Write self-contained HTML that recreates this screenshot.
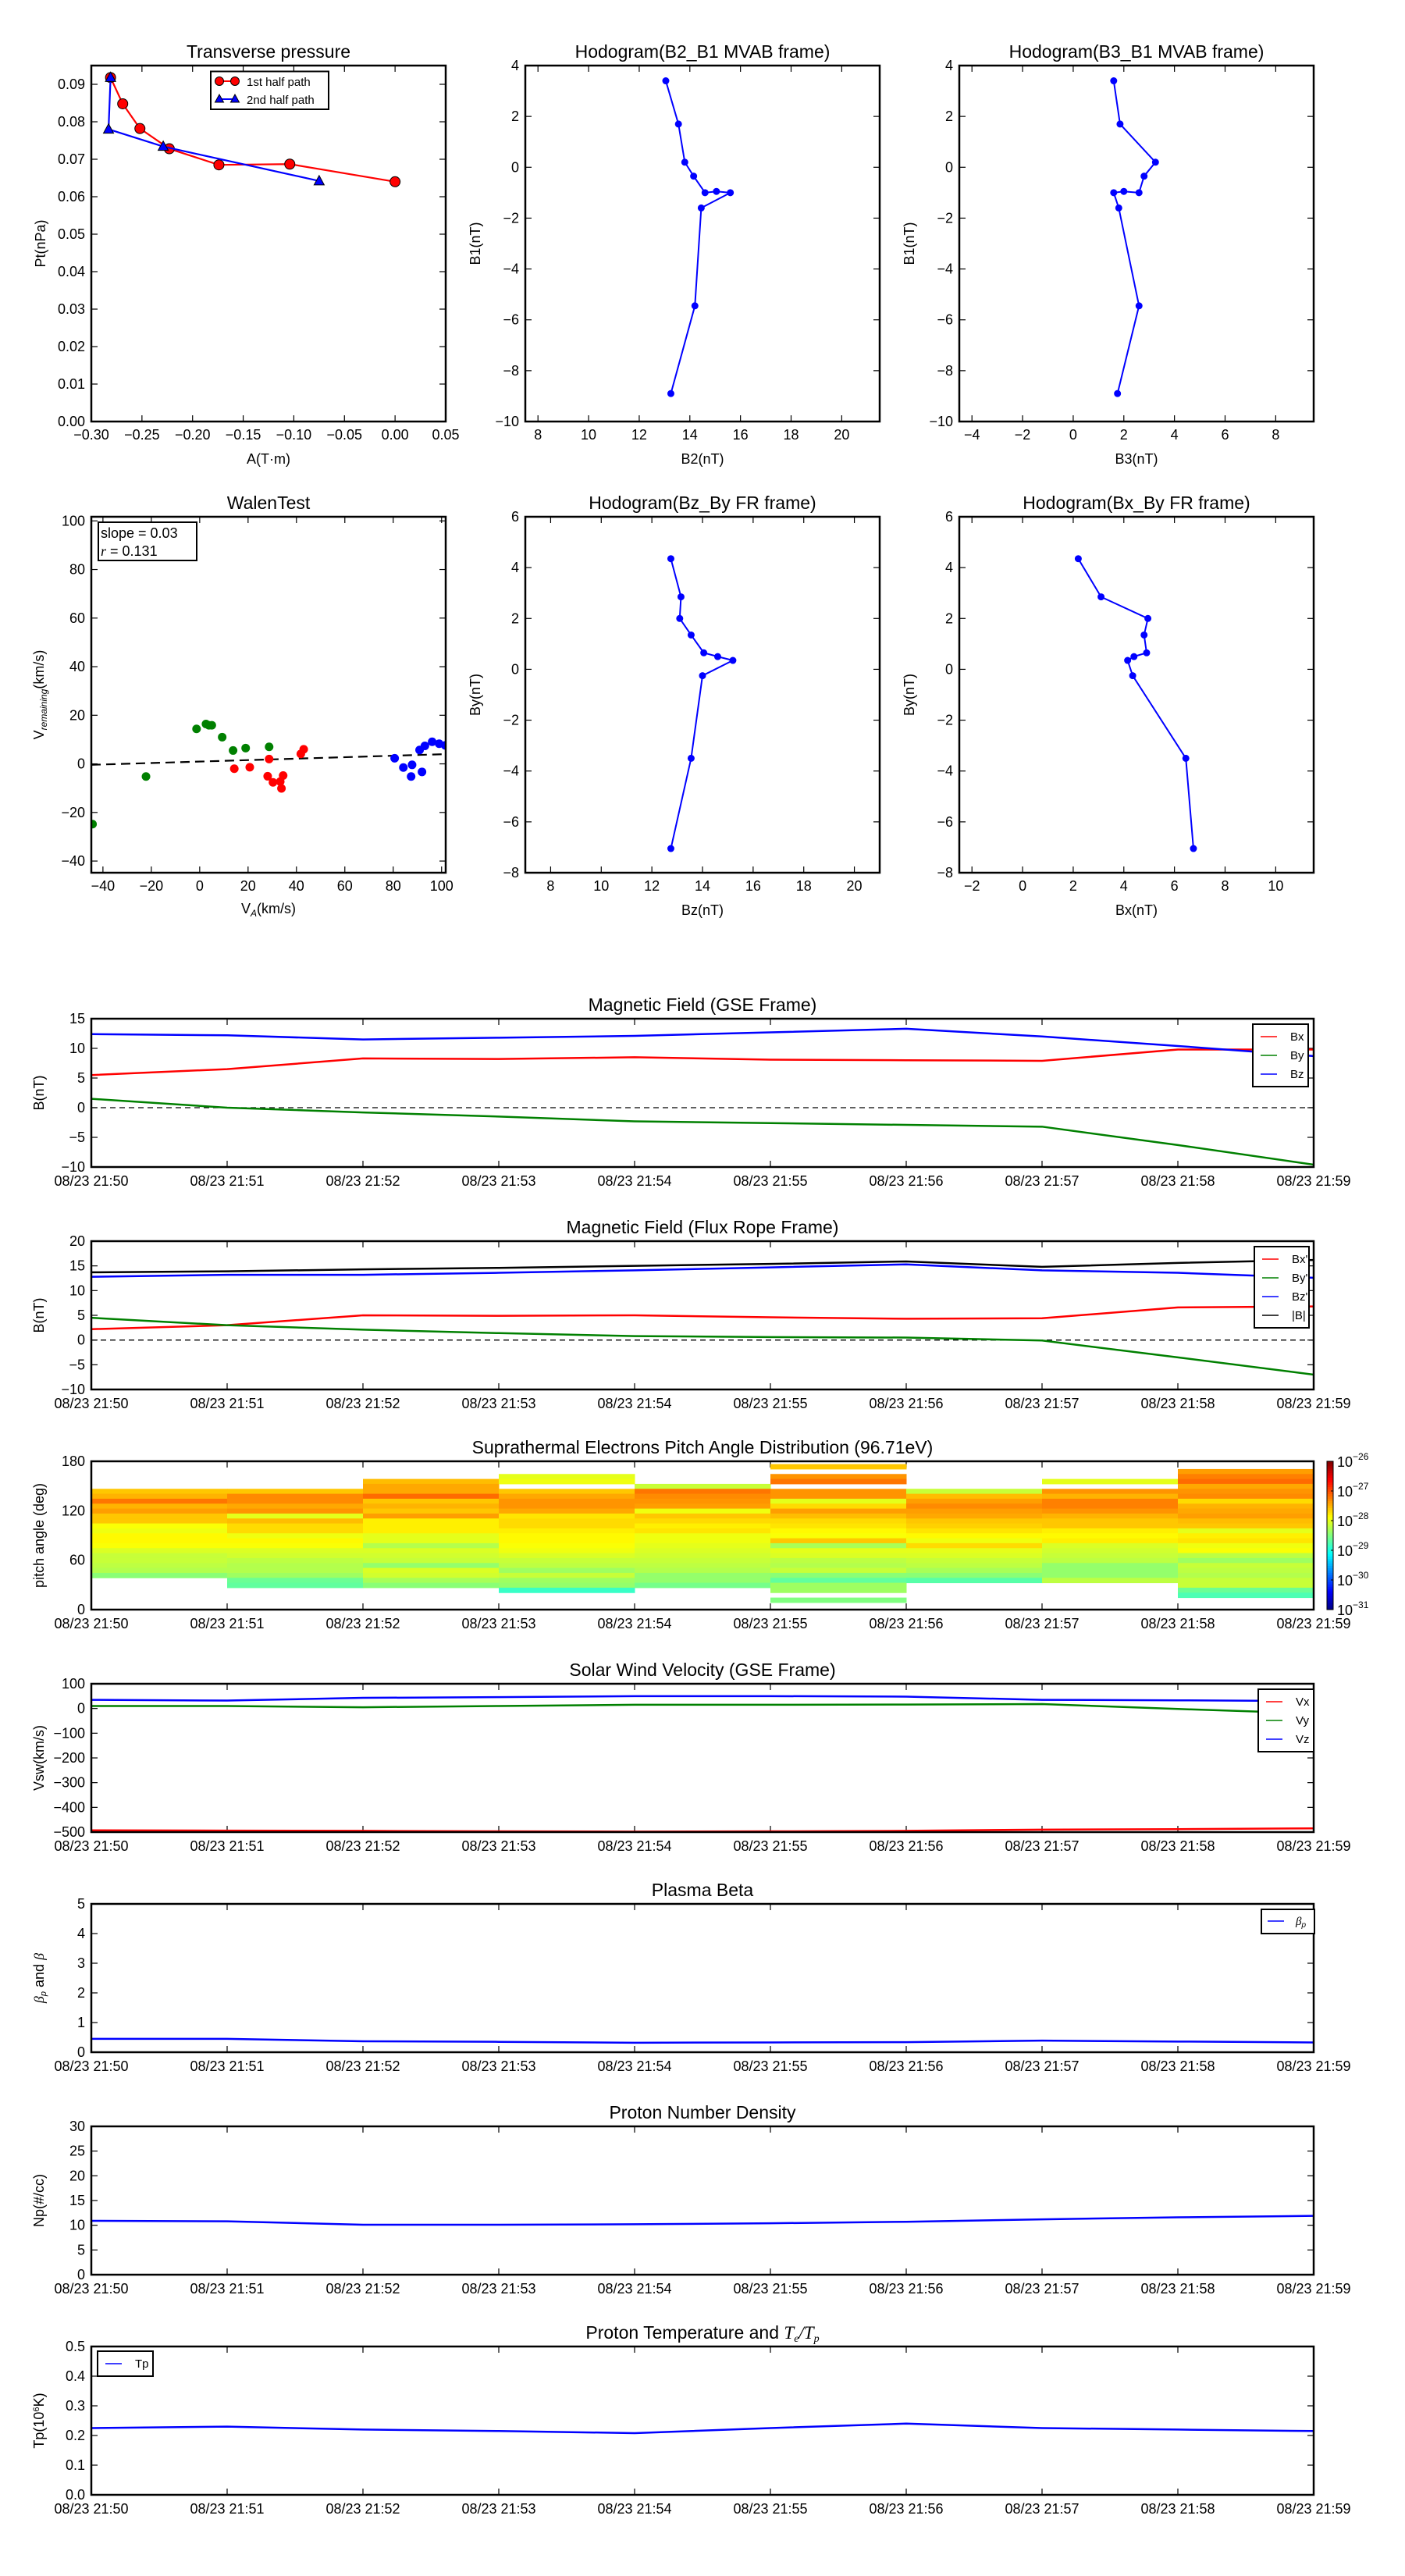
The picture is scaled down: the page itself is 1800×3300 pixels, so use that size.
<!DOCTYPE html>
<html><head><meta charset="utf-8"><title>Flux rope analysis</title>
<style>
html,body{margin:0;padding:0;background:#fff;}
svg{display:block;font-family:"Liberation Sans",sans-serif;}
</style></head>
<body>
<svg id="fig" xmlns="http://www.w3.org/2000/svg" width="1800" height="3300" viewBox="0 0 1800 3300">
<rect x="0" y="0" width="1800" height="3300" fill="#fff"/>
</svg>
<script>
// ---------- data ----------
const tpA1 = [-0.281,-0.269,-0.252,-0.223,-0.174,-0.104,0.000];
const tpP1 = [0.0918,0.0848,0.0782,0.0728,0.0685,0.0687,0.0640];
const tpA2 = [-0.281,-0.283,-0.229,-0.075];
const tpP2 = [0.0918,0.0780,0.0734,0.0642];

const h1B2 = [13.05,13.55,13.8,14.15,14.6,15.05,15.6,14.45,14.2,13.25];
const h1B1 = [3.4,1.7,0.2,-0.35,-1.0,-0.95,-1.0,-1.6,-5.45,-8.9];
const h2B3 = [1.6,1.85,3.25,2.8,2.6,2.0,1.6,1.8,2.6,1.75];
const h3Bz = [12.75,13.15,13.1,13.55,14.05,14.6,15.2,14.0,13.55,12.75];
const h3By = [4.35,2.85,2.0,1.35,0.65,0.5,0.35,-0.25,-3.5,-7.05];
const h4Bx = [2.2,3.1,4.95,4.8,4.9,4.4,4.15,4.35,6.45,6.75];

const wGreenX = [-44.3,-22.2,-1.3,2.6,3.8,5.0,9.3,13.8,19.0,28.7];
const wGreenY = [-24.8,-5.2,14.4,16.4,15.9,15.9,11.0,5.5,6.5,7.0];
const wRedX = [14.3,20.7,28.7,28.1,30.3,33.3,34.5,33.8,41.8,43.0];
const wRedY = [-2.0,-1.4,2.0,-5.1,-7.6,-7.3,-4.8,-10.1,4.1,6.0];
const wBlueX = [80.6,84.2,87.8,87.4,91.9,90.9,93.1,96.1,99.0,101.5];
const wBlueY = [2.3,-1.5,-0.4,-5.2,-3.3,5.7,7.4,9.1,8.3,7.6];
const fitSlope = 0.03;
const fitIntercept = 0.95;

const timeLabels = ["08/23 21:50","08/23 21:51","08/23 21:52","08/23 21:53","08/23 21:54","08/23 21:55","08/23 21:56","08/23 21:57","08/23 21:58","08/23 21:59"];
const gseBx = [5.5,6.5,8.3,8.2,8.5,8.1,8.0,7.9,9.8,9.8];
const gseBy = [1.5,0.0,-0.8,-1.5,-2.3,-2.6,-2.9,-3.2,-6.3,-9.6];
const gseBz = [12.4,12.2,11.5,11.8,12.1,12.7,13.3,12.0,10.4,8.7];
const frBx = [2.2,3.0,5.0,4.9,5.0,4.6,4.3,4.4,6.6,6.8];
const frBy = [4.5,3.0,2.1,1.4,0.8,0.6,0.5,-0.1,-3.5,-7.0];
const frBz = [12.8,13.2,13.2,13.6,14.1,14.7,15.3,14.1,13.6,12.6];
const frBt = [13.7,13.9,14.3,14.6,15.0,15.4,15.9,14.8,15.6,16.2];
const vswX = [-493,-494,-495,-497,-498,-497,-495,-490,-488,-485];
const vswY = [10,10,5,10,15,15,16,18,-2,-20];
const vswZ = [35,32,43,46,50,50,48,35,33,30];
const betaP = [0.45,0.45,0.37,0.35,0.32,0.33,0.34,0.39,0.36,0.33];
const densNp = [10.9,10.8,10.1,10.1,10.2,10.4,10.7,11.2,11.6,11.9];
const tempTp = [0.225,0.23,0.22,0.215,0.208,0.225,0.24,0.225,0.22,0.215];

// pitch-angle bins (lower edges, deg) bottom-to-top
const pitchEdges = [2.6,8.6,14.6,20.6,26.6,32.6,38.6,44.6,50.6,56.6,62.6,68.6,74.6,80.6,86.6,92.6,98.6,104.6,110.6,116.6,122.6,128.6,134.6,140.6,146.6,152.6,158.6,164.6,170.6,176.6];
// log10 flux per minute column, listed top row (176.6deg) to bottom (2.6deg); null = no data
const N = null;
const pad0 = [N,N,N,N,N,N,-27.6,-27.5,-27.2,-27.5,-27.4,-27.6,-27.6,-27.9,-27.95,-27.85,-27.85,-27.9,-28.05,-28.15,-28.15,-28.2,-28.25,-28.45,N,N,N,N,N,N];
const pad1 = [N,N,N,N,N,N,-27.6,-27.3,-27.3,-27.45,-27.35,-28.0,-27.55,-27.7,-27.7,-27.95,-27.85,-27.9,-28.05,-28.1,-28.2,-28.25,-28.25,-28.35,-28.6,-28.65,N,N,N,N];
const pad2 = [N,N,N,N,-27.55,-27.45,-27.45,-27.15,-27.6,-27.5,-27.6,-27.4,-27.8,-27.8,-27.8,-28.0,-28.0,-28.25,-28.05,-28.1,-28.15,-28.4,-28.05,-28.1,-28.3,-28.45,N,N,N,N];
const pad3 = [N,N,N,-28.0,-27.95,N,-27.6,-27.45,-27.35,-27.35,-27.45,-27.75,-27.7,-27.7,-27.8,-27.85,-27.85,-27.9,-27.95,-28.05,-28.15,-28.2,-28.35,-28.15,-28.35,-28.4,-28.85,N,N,N];
const pad4 = [N,N,N,N,N,-28.15,-27.2,-27.3,-27.35,-27.4,-27.95,-27.6,-27.7,-27.8,-27.75,-27.95,-27.95,-28.0,-28.05,-28.1,-28.15,-28.2,-28.25,-28.4,-28.4,-28.55,N,N,N,N];
const pad5 = [N,-27.6,N,-27.35,-27.2,N,-27.35,-27.35,-28.0,-27.7,-27.4,-27.55,-27.7,-27.75,-27.85,-27.9,-27.6,-28.3,-28.0,-28.05,-28.2,-28.25,-28.15,-28.45,-28.65,-28.35,-28.35,N,-28.5,N];
const pad6 = [N,N,N,N,N,N,-28.15,-27.55,-27.4,-27.3,-27.4,-27.45,-27.6,-27.65,-27.75,-27.85,-27.95,-27.7,-28.0,-28.05,-28.15,-28.2,-28.3,-28.45,-28.7,N,N,N,N,N];
const pad7 = [N,N,N,N,-28.0,N,-27.35,-27.5,-27.25,-27.25,-27.35,-27.5,-27.6,-27.6,-27.8,-27.85,-27.8,-28.05,-28.1,-28.15,-28.2,-28.4,-28.4,-28.4,-28.2,N,N,N,N,N];
const pad8 = [N,N,-27.4,-27.25,-27.15,-27.45,-27.35,-27.3,-27.7,-27.5,-27.45,-27.4,-27.55,-27.6,-28.0,-27.8,-27.75,-27.95,-27.9,-28.2,-28.35,-28.15,-28.2,-28.25,-28.15,-28.15,-28.6,-28.75,N,N];
const padCols = [pad0,pad1,pad2,pad3,pad4,pad5,pad6,pad7,pad8];

// ---------- helpers ----------
const NS = "http://www.w3.org/2000/svg";
const fig = document.getElementById('fig');
function mk(tag, attrs, parent, name, inter) {
  const el = document.createElementNS(NS, tag);
  for (const k in attrs) el.setAttribute(k, attrs[k]);
  
  
  (parent || fig).appendChild(el);
  return el;
}
function txt(x, y, s, size, anchor, parent, name, extra) {
  const a = Object.assign({x: x, y: y, 'font-size': size, 'text-anchor': anchor || 'middle', fill: '#000'}, extra || {});
  const t = mk('text', a, parent, name, false);
  t.textContent = s;
  return t;
}
function scale(d0, d1, p0, p1) { return v => p0 + (v - d0) / (d1 - d0) * (p1 - p0); }
function fmtNum(v, dec) {
  const s = Math.abs(v).toFixed(dec);
  return (v < -1e-9 ? '\u2212' : '') + s;
}
function axesFrame(g, L, R, T, B, lw) {
  mk('rect', {x: L, y: T, width: R - L, height: B - T, fill: 'none', stroke: '#000', 'stroke-width': lw || 2.5}, g, 'axes-frame', false);
}
function xTicks(g, sx, vals, labels, T, B, ly, fs) {
  vals.forEach((v, i) => {
    const x = sx(v);
    mk('line', {x1: x, y1: B, x2: x, y2: B - 8, stroke: '#000', 'stroke-width': 1.2}, g, 'x-tick', false);
    mk('line', {x1: x, y1: T, x2: x, y2: T + 8, stroke: '#000', 'stroke-width': 1.2}, g, 'x-tick-top', false);
    txt(x, ly, labels[i], fs, 'middle', g, 'x-tick-label');
  });
}
function yTicks(g, sy, vals, labels, L, R, fs) {
  vals.forEach((v, i) => {
    const y = sy(v);
    mk('line', {x1: L, y1: y, x2: L + 8, y2: y, stroke: '#000', 'stroke-width': 1.2}, g, 'y-tick', false);
    mk('line', {x1: R, y1: y, x2: R - 8, y2: y, stroke: '#000', 'stroke-width': 1.2}, g, 'y-tick-right', false);
    txt(L - 8, y + 6, labels[i], fs, 'end', g, 'y-tick-label');
  });
}
function ylabel(g, x, y, s, fs, name) {
  const t = txt(x, y, s, fs, 'middle', g, name, {transform: 'rotate(-90 ' + x + ' ' + y + ')'});
  return t;
}
function polyline(g, xs, ys, sx, sy, color, lw, name) {
  const pts = xs.map((x, i) => sx(x).toFixed(2) + ',' + sy(ys[i]).toFixed(2)).join(' ');
  return mk('polyline', {points: pts, fill: 'none', stroke: color, 'stroke-width': lw, 'stroke-linejoin': 'round'}, g, name, false);
}
function range(a, b, s) { const r = []; for (let v = a; v <= b + 1e-9; v += s) r.push(Math.round(v * 1e6) / 1e6); return r; }
function clip(g, id, L, R, T, B) {
  const cp = mk('clipPath', {id: id}, g, 'clip', false);
  mk('rect', {x: L, y: T, width: R - L, height: B - T}, cp, 'clip-rect', false);
}

// ---------- Transverse pressure ----------
(function(){
  const g = mk('g', {}, fig, 'transverse-pressure-chart', false);
  const L = 117, R = 571, T = 84, B = 540;
  const sx = scale(-0.30, 0.05, L, R), sy = scale(0, 0.095, B, T);
  txt((L + R) / 2, 74, 'Transverse pressure', 23, 'middle', g, 'chart-title');
  const xt = range(-0.30, 0.05, 0.05);
  xTicks(g, sx, xt, xt.map(v => fmtNum(v, 2)), T, B, 563, 18);
  const yt = range(0, 0.09, 0.01);
  yTicks(g, sy, yt, yt.map(v => fmtNum(v, 2)), L, R, 18);
  txt((L + R) / 2, 594, 'A(T\u00b7m)', 18, 'middle', g, 'x-axis-title');
  ylabel(g, 58, (T + B) / 2, 'Pt(nPa)', 18, 'y-axis-title');
  polyline(g, tpA1, tpP1, sx, sy, '#ff0000', 2.2, 'first-half-line');
  tpA1.forEach((a, i) => {
    mk('circle', {cx: sx(a), cy: sy(tpP1[i]), r: 6.5, fill: '#ff0000', stroke: '#000', 'stroke-width': 1}, g, 'first-half-point', false);
  });
  polyline(g, tpA2, tpP2, sx, sy, '#0000ff', 2.2, 'second-half-line');
  tpA2.forEach((a, i) => {
    const x = sx(a), y = sy(tpP2[i]);
    mk('polygon', {points: `${x},${y-7} ${x-6.5},${y+5} ${x+6.5},${y+5}`, fill: '#0000ff', stroke: '#000', 'stroke-width': 1}, g, 'second-half-point', false);
  });
  axesFrame(g, L, R, T, B);
  const lg = mk('g', {}, g, 'legend', false);
  mk('rect', {x: 270, y: 91.5, width: 151, height: 48.5, fill: '#fff', stroke: '#000', 'stroke-width': 2}, lg, 'legend-box', false);
  mk('line', {x1: 281, y1: 104, x2: 301, y2: 104, stroke: '#ff0000', 'stroke-width': 2}, lg, 'legend-line-first', false);
  mk('circle', {cx: 281, cy: 104, r: 5.5, fill: '#ff0000', stroke: '#000'}, lg, 'legend-marker', false);
  mk('circle', {cx: 301, cy: 104, r: 5.5, fill: '#ff0000', stroke: '#000'}, lg, 'legend-marker', false);
  txt(316, 110, '1st half path', 15, 'start', lg, 'legend-label-first');
  mk('line', {x1: 281, y1: 127, x2: 301, y2: 127, stroke: '#0000ff', 'stroke-width': 2}, lg, 'legend-line-second', false);
  mk('polygon', {points: '281,121 275.5,131 286.5,131', fill: '#0000ff', stroke: '#000'}, lg, 'legend-marker', false);
  mk('polygon', {points: '301,121 295.5,131 306.5,131', fill: '#0000ff', stroke: '#000'}, lg, 'legend-marker', false);
  txt(316, 133, '2nd half path', 15, 'start', lg, 'legend-label-second');
})();

// ---------- hodograms ----------
function hodogram(name, title, L, R, T, B, xr, yr, xt, yt, xs, ys, xlab, ylab, ylx) {
  const g = mk('g', {}, fig, name, false);
  const sx = scale(xr[0], xr[1], L, R), sy = scale(yr[0], yr[1], B, T);
  txt((L + R) / 2, T - 10, title, 23, 'middle', g, 'chart-title');
  xTicks(g, sx, xt, xt.map(v => fmtNum(v, 0)), T, B, B + 23, 18);
  yTicks(g, sy, yt, yt.map(v => fmtNum(v, 0)), L, R, 18);
  txt((L + R) / 2, B + 54, xlab, 18, 'middle', g, 'x-axis-title');
  ylabel(g, ylx, (T + B) / 2, ylab, 18, 'y-axis-title');
  polyline(g, xs, ys, sx, sy, '#0000ff', 2, 'hodogram-line');
  xs.forEach((x, i) => {
    mk('circle', {cx: sx(x), cy: sy(ys[i]), r: 4, fill: '#0000ff', stroke: '#0000ff'}, g, 'hodogram-point', false);
  });
  axesFrame(g, L, R, T, B);
}
hodogram('hodogram-b2-b1', 'Hodogram(B2_B1 MVAB frame)', 673, 1127, 84, 540, [7.5, 21.5], [-10, 4], range(8, 20, 2), range(-10, 4, 2), h1B2, h1B1, 'B2(nT)', 'B1(nT)', 615);
hodogram('hodogram-b3-b1', 'Hodogram(B3_B1 MVAB frame)', 1229, 1683, 84, 540, [-4.5, 9.5], [-10, 4], range(-4, 8, 2), range(-10, 4, 2), h2B3, h1B1, 'B3(nT)', 'B1(nT)', 1171);
hodogram('hodogram-bz-by', 'Hodogram(Bz_By FR frame)', 673, 1127, 662, 1118, [7, 21], [-8, 6], range(8, 20, 2), range(-8, 6, 2), h3Bz, h3By, 'Bz(nT)', 'By(nT)', 615);
hodogram('hodogram-bx-by', 'Hodogram(Bx_By FR frame)', 1229, 1683, 662, 1118, [-2.5, 11.5], [-8, 6], range(-2, 10, 2), range(-8, 6, 2), h4Bx, h3By, 'Bx(nT)', 'By(nT)', 1171);

// ---------- Walen test ----------
(function(){
  const g = mk('g', {}, fig, 'walen-test-chart', false);
  const L = 117, R = 571, T = 662, B = 1118;
  const sx = scale(-44.8, 101.7, L, R), sy = scale(-44.8, 101.7, B, T);
  txt((L + R) / 2, 652, 'WalenTest', 23, 'middle', g, 'chart-title');
  const xt = range(-40, 100, 20);
  xTicks(g, sx, xt, xt.map(v => fmtNum(v, 0)), T, B, 1141, 18);
  yTicks(g, sy, xt, xt.map(v => fmtNum(v, 0)), L, R, 18);
  const xl = txt((L + R) / 2, 1170, '', 18, 'middle', g, 'x-axis-title');
  xl.innerHTML = 'V<tspan font-size="12" font-style="italic" dy="4">A</tspan><tspan dy="-4">(km/s)</tspan>';
  const yl = ylabel(g, 56, (T + B) / 2, '', 18, 'y-axis-title');
  yl.innerHTML = 'V<tspan font-size="12" font-style="italic" dy="4">remaining</tspan><tspan dy="-4">(km/s)</tspan>';
  clip(g, 'walenClip', L, R, T, B);
  const pg = mk('g', {'clip-path': 'url(#walenClip)'}, g, 'walen-plot-area', false);
  const x0 = -44.8, x1 = 101.7;
  mk('line', {x1: sx(x0), y1: sy(fitSlope * x0 + fitIntercept), x2: sx(x1), y2: sy(fitSlope * x1 + fitIntercept), stroke: '#000', 'stroke-width': 2.2, 'stroke-dasharray': '12,7'}, pg, 'fit-line', false);
  [[wGreenX, wGreenY, '#008000', 'walen-point-green'], [wRedX, wRedY, '#ff0000', 'walen-point-red'], [wBlueX, wBlueY, '#0000ff', 'walen-point-blue']].forEach(s => {
    s[0].forEach((x, i) => {
      mk('circle', {cx: sx(x), cy: sy(s[1][i]), r: 5.5, fill: s[2]}, pg, s[3], false);
    });
  });
  axesFrame(g, L, R, T, B);
  mk('rect', {x: 126, y: 669, width: 126, height: 49, fill: '#fff', stroke: '#000', 'stroke-width': 2}, g, 'fit-stats-box', false);
  txt(129, 689, 'slope = 0.03', 18, 'start', g, 'slope-text');
  const rt = txt(129, 712, '', 18, 'start', g, 'r-text');
  rt.innerHTML = '<tspan font-family="Liberation Serif" font-style="italic">r</tspan> = 0.131';
})();

// ---------- time series ----------
const tL = 117, tR = 1683;
const tIdx = timeLabels.map((s, i) => i);
const sxT = scale(0, 9, tL, tR);
function timePanel(name, title, T, yr, yt, ytl, ylab) {
  const B = T + 190;
  const g = mk('g', {}, fig, name, false);
  const sy = scale(yr[0], yr[1], B, T);
  const tt = txt((tL + tR) / 2, T - 10, title, 23, 'middle', g, 'chart-title');
  xTicks(g, sxT, tIdx, timeLabels, T, B, B + 24, 18);
  yTicks(g, sy, yt, ytl, tL, tR, 18);
  const yl = ylabel(g, 56, (T + B) / 2, ylab, 18, 'y-axis-title');
  return {g: g, sy: sy, B: B, T: T, title: tt, ylab: yl};
}
function tsLine(p, vals, color, name) {
  const pts = vals.map((v, i) => sxT(i).toFixed(2) + ',' + p.sy(v).toFixed(2)).join(' ');
  return mk('polyline', {points: pts, fill: 'none', stroke: color, 'stroke-width': 2.5, 'stroke-linejoin': 'round'}, p.g, name, false);
}
function legend(g, x, y, w, items, fs) {
  const lg = mk('g', {}, g, 'legend', false);
  const h = items.length * 24 + 8;
  mk('rect', {x: x, y: y, width: w, height: h, fill: '#fff', stroke: '#000', 'stroke-width': 2}, lg, 'legend-box', false);
  items.forEach((it, i) => {
    const cy = y + 16 + i * 24;
    mk('line', {x1: x + 10, y1: cy, x2: x + 31, y2: cy, stroke: it[1], 'stroke-width': 1.6}, lg, 'legend-swatch', false);
    const t = txt(x + 48, cy + 5, it[0], fs || 15, 'start', lg, 'legend-label');
    if (it[2]) t.innerHTML = it[2];
  });
}
function zeroLine(p) {
  mk('line', {x1: tL, y1: p.sy(0), x2: tR, y2: p.sy(0), stroke: '#000', 'stroke-width': 1.3, 'stroke-dasharray': '7,5'}, p.g, 'zero-line', false);
}
function tickLab(vals, dec) { return vals.map(v => fmtNum(v, dec)); }

// Magnetic field GSE
(function(){
  const yt = range(-10, 15, 5);
  const p = timePanel('magnetic-field-gse-chart', 'Magnetic Field (GSE Frame)', 1305, [-10, 15], yt, tickLab(yt, 0), 'B(nT)');
  zeroLine(p);
  tsLine(p, gseBx, '#ff0000', 'line-bx');
  tsLine(p, gseBy, '#008000', 'line-by');
  tsLine(p, gseBz, '#0000ff', 'line-bz');
  axesFrame(p.g, tL, tR, p.T, p.B);
  legend(p.g, 1605, 1312, 71, [['Bx', '#ff0000'], ['By', '#008000'], ['Bz', '#0000ff']]);
})();
// Magnetic field FR
(function(){
  const yt = range(-10, 20, 5);
  const p = timePanel('magnetic-field-fr-chart', 'Magnetic Field (Flux Rope Frame)', 1590, [-10, 20], yt, tickLab(yt, 0), 'B(nT)');
  zeroLine(p);
  tsLine(p, frBx, '#ff0000', 'line-bx-prime');
  tsLine(p, frBy, '#008000', 'line-by-prime');
  tsLine(p, frBz, '#0000ff', 'line-bz-prime');
  tsLine(p, frBt, '#000000', 'line-btotal');
  axesFrame(p.g, tL, tR, p.T, p.B);
  legend(p.g, 1607, 1597, 70, [["Bx'", '#ff0000'], ["By'", '#008000'], ["Bz'", '#0000ff'], ['|B|', '#000000']]);
})();
// Pitch angle distribution
function jet(f) {
  f = Math.max(0, Math.min(1, f));
  const c = v => Math.round(255 * Math.max(0, Math.min(1, v)));
  const r = c(1.5 - Math.abs(4 * f - 3)), g = c(1.5 - Math.abs(4 * f - 2)), b = c(1.5 - Math.abs(4 * f - 1));
  return `rgb(${r},${g},${b})`;
}
(function(){
  const yt = [0, 60, 120, 180];
  const p = timePanel('pitch-angle-chart', 'Suprathermal Electrons Pitch Angle Distribution (96.71eV)', 1872, [0, 180], yt, yt.map(String), 'pitch angle (deg)');
  clip(p.g, 'padClip', tL, tR, p.T, p.B);
  const cg = mk('g', {'clip-path': 'url(#padClip)'}, p.g, 'heatmap', false);
  const cMin = -31, cMax = -26;
  padCols.forEach((col, ci) => {
    const x0 = sxT(ci), x1 = sxT(ci + 1);
    col.forEach((v, ti) => {
      if (v === null) return;
      const n = pitchEdges.length - 1 - ti;
      const lo = pitchEdges[n], hi = lo + 6;
      const y0 = p.sy(hi), y1 = p.sy(lo);
      mk('rect', {x: x0, y: y0, width: x1 - x0 + 0.5, height: y1 - y0 + 0.5, fill: jet((v - cMin) / (cMax - cMin))}, cg, 'heatmap-cell', false);
    });
  });
  axesFrame(p.g, tL, tR, p.T, p.B);
  // colorbar
  const cb = mk('g', {}, p.g, 'colorbar', false);
  const cbL = 1700, cbW = 8;
  for (let i = 0; i < 64; i++) {
    const y = p.B - (i + 1) * 190 / 64;
    mk('rect', {x: cbL, y: y, width: cbW, height: 190 / 64 + 0.4, fill: jet((i + 0.5) / 64)}, cb, 'colorbar-step', false);
  }
  mk('rect', {x: cbL, y: p.T, width: cbW, height: 190, fill: 'none', stroke: '#000', 'stroke-width': 1}, cb, 'colorbar-frame', false);
  const cbExp = [-26, -27, -28, -29, -30, -31];
  cbExp.forEach((e, i) => {
    const y = p.T + i * 190 / 5;
    mk('line', {x1: cbL + cbW - 3, y1: y, x2: cbL + cbW, y2: y, stroke: '#000'}, cb, 'colorbar-tick', false);
    const t = txt(cbL + 13, y + 7, '', 18, 'start', cb, 'colorbar-label');
    t.innerHTML = '10<tspan font-size="12" dy="-9">' + String(e).replace('-', '\u2212') + '</tspan>';
  });
})();
// Solar wind velocity
(function(){
  const yt = range(-500, 100, 100);
  const p = timePanel('solar-wind-velocity-chart', 'Solar Wind Velocity (GSE Frame)', 2157, [-500, 100], yt, tickLab(yt, 0), 'Vsw(km/s)');
  tsLine(p, vswX, '#ff0000', 'line-vx');
  tsLine(p, vswY, '#008000', 'line-vy');
  tsLine(p, vswZ, '#0000ff', 'line-vz');
  axesFrame(p.g, tL, tR, p.T, p.B);
  legend(p.g, 1612, 2164, 71, [['Vx', '#ff0000'], ['Vy', '#008000'], ['Vz', '#0000ff']]);
})();
// Plasma beta
(function(){
  const yt = range(0, 5, 1);
  const p = timePanel('plasma-beta-chart', 'Plasma Beta', 2439, [0, 5], yt, tickLab(yt, 0), '');
  p.ylab.innerHTML = '<tspan font-family="Liberation Serif" font-style="italic">\u03b2</tspan><tspan font-size="11" dy="3" font-style="italic">p</tspan><tspan dy="-3"> and </tspan><tspan font-family="Liberation Serif" font-style="italic">\u03b2</tspan>';
  tsLine(p, betaP, '#0000ff', 'line-beta-p');
  axesFrame(p.g, tL, tR, p.T, p.B);
  const lg = mk('g', {}, p.g, 'legend', false);
  mk('rect', {x: 1616, y: 2446, width: 68, height: 31, fill: '#fff', stroke: '#000', 'stroke-width': 2}, lg, 'legend-box', false);
  mk('line', {x1: 1624, y1: 2461, x2: 1645, y2: 2461, stroke: '#0000ff', 'stroke-width': 1.6}, lg, 'legend-swatch', false);
  const t = txt(1660, 2466, '', 15, 'start', lg, 'legend-label');
  t.innerHTML = '<tspan font-family="Liberation Serif" font-style="italic">\u03b2</tspan><tspan font-size="10" dy="3" font-style="italic">p</tspan>';
})();
// Proton density
(function(){
  const yt = range(0, 30, 5);
  const p = timePanel('proton-density-chart', 'Proton Number Density', 2724, [0, 30], yt, tickLab(yt, 0), 'Np(#/cc)');
  tsLine(p, densNp, '#0000ff', 'line-np');
  axesFrame(p.g, tL, tR, p.T, p.B);
})();
// Proton temperature
(function(){
  const yt = range(0, 0.5, 0.1);
  const p = timePanel('proton-temperature-chart', '', 3006, [0, 0.5], yt, tickLab(yt, 1), '');
  p.title.innerHTML = 'Proton Temperature and <tspan font-family="Liberation Serif" font-style="italic">T</tspan><tspan font-family="Liberation Serif" font-style="italic" font-size="14" dy="4">e</tspan><tspan font-family="Liberation Serif" font-style="italic" dy="-4">/T</tspan><tspan font-family="Liberation Serif" font-style="italic" font-size="14" dy="4">p</tspan>';
  p.ylab.innerHTML = 'Tp(10<tspan font-size="11" dy="-6">6</tspan><tspan dy="6">K)</tspan>';
  tsLine(p, tempTp, '#0000ff', 'line-tp');
  axesFrame(p.g, tL, tR, p.T, p.B);
  legend(p.g, 125, 3012, 71, [['Tp', '#0000ff']]);
})();
</script>
</body></html>
